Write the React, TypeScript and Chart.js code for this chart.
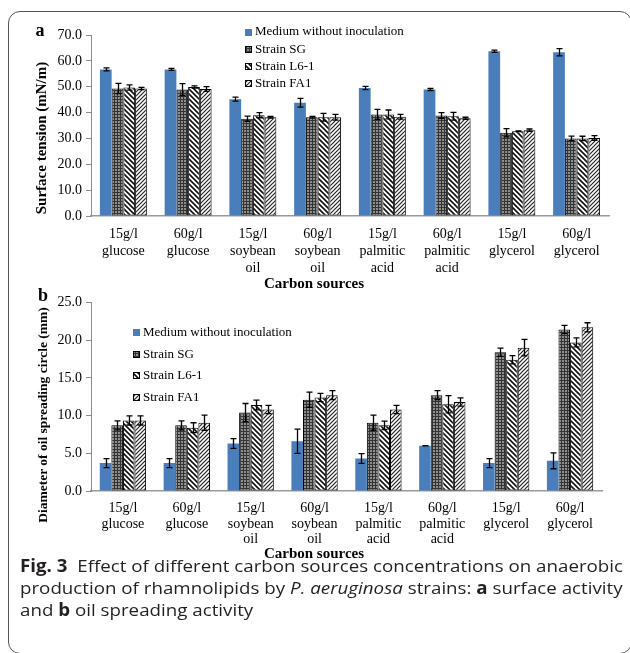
import React, { useEffect, useRef } from "react";
import { Chart, registerables } from "chart.js";
Chart.register(...registerables);

// ---------- data ----------
const categories: string[][] = [
  ["15g/l", "glucose"],
  ["60g/l", "glucose"],
  ["15g/l", "soybean", "oil"],
  ["60g/l", "soybean", "oil"],
  ["15g/l", "palmitic", "acid"],
  ["60g/l", "palmitic", "acid"],
  ["15g/l", "glycerol"],
  ["60g/l", "glycerol"],
];
const seriesNames = ["Medium without inoculation", "Strain SG", "Strain L6-1", "Strain FA1"];

// (a) surface tension (mN/m)
const tensionMedium = [56.7, 56.7, 45.2, 43.8, 49.5, 48.9, 63.7, 63.3];
const tensionMediumErr = [0.6, 0.4, 0.8, 1.7, 0.6, 0.4, 0.45, 1.4];
const tensionSG = [49.3, 48.9, 37.6, 38.2, 39.3, 38.9, 32.2, 30.0];
const tensionSGErr = [2.0, 2.3, 1.0, 0.3, 1.9, 1.1, 1.6, 0.9];
const tensionL61 = [49.7, 49.9, 39.0, 38.2, 39.3, 38.6, 32.8, 30.0];
const tensionL61Err = [1.0, 0.4, 1.0, 1.5, 1.7, 1.5, 0.15, 0.85];
const tensionFA1 = [49.3, 49.1, 38.2, 38.2, 38.4, 37.8, 33.2, 30.2];
const tensionFA1Err = [0.45, 0.9, 0.3, 1.1, 0.9, 0.4, 0.45, 0.9];

// (b) diameter of oil spreading circle (mm)
const spreadMedium = [3.7, 3.7, 6.3, 6.6, 4.3, 6.0, 3.7, 4.0];
const spreadMediumErr = [0.6, 0.6, 0.65, 1.6, 0.65, 0, 0.6, 1.05];
const spreadSG = [8.7, 8.7, 10.4, 12.1, 9.05, 12.7, 18.4, 21.4];
const spreadSGErr = [0.6, 0.6, 1.2, 1.0, 1.0, 0.6, 0.55, 0.55];
const spreadL61 = [9.35, 8.4, 11.4, 12.4, 8.7, 11.5, 17.4, 19.7];
const spreadL61Err = [0.6, 0.65, 0.65, 0.55, 0.55, 1.15, 0.55, 0.6];
const spreadFA1 = [9.35, 9.05, 10.8, 12.7, 10.8, 11.8, 19.0, 21.7];
const spreadFA1Err = [0.6, 1.0, 0.55, 0.6, 0.55, 0.55, 1.1, 0.6];

const tensionTicks = { min: 0, max: 70, step: 10 };
const spreadTicks = { min: 0, max: 25, step: 5 };

// ---------- patterns ----------
function makePattern(kind: string): CanvasPattern | string {
  const c = document.createElement("canvas");
  const ctx = c.getContext("2d")!;
  if (kind === "grid") {
    c.width = 3; c.height = 3;
    ctx.fillStyle = "#8e8e8e"; ctx.fillRect(0, 0, 3, 3);
    ctx.fillStyle = "#333333"; ctx.fillRect(0, 0, 3, 1); ctx.fillRect(0, 0, 1, 3);
  } else if (kind === "down") {
    const s = 5; c.width = s; c.height = s;
    ctx.fillStyle = "#fff"; ctx.fillRect(0, 0, s, s);
    ctx.strokeStyle = "#111"; ctx.lineWidth = 1.6;
    ctx.beginPath();
    ctx.moveTo(-1, -1); ctx.lineTo(s + 1, s + 1);
    ctx.moveTo(-1, s - 1); ctx.lineTo(1, s + 1);
    ctx.moveTo(s - 1, -1); ctx.lineTo(s + 1, 1);
    ctx.stroke();
  } else {
    const s = 4; c.width = s; c.height = s;
    ctx.fillStyle = "#fff"; ctx.fillRect(0, 0, s, s);
    ctx.strokeStyle = "#222"; ctx.lineWidth = 1.2;
    ctx.beginPath();
    ctx.moveTo(-1, s + 1); ctx.lineTo(s + 1, -1);
    ctx.moveTo(-1, 1); ctx.lineTo(1, -1);
    ctx.moveTo(s - 1, s + 1); ctx.lineTo(s + 1, s - 1);
    ctx.stroke();
  }
  return ctx.createPattern(c, "repeat")!;
}

// ---------- plugins ----------
const errorBars = {
  id: "errorBars",
  afterDatasetsDraw(chart: any) {
    const { ctx } = chart;
    const yScale = chart.scales.y;
    chart.data.datasets.forEach((ds: any, i: number) => {
      const errs: number[] = ds.errors;
      if (!errs) return;
      const meta = chart.getDatasetMeta(i);
      meta.data.forEach((bar: any, j: number) => {
        const v = ds.data[j];
        const e = errs[j];
        const x = Math.round(bar.x) + 0.5;
        const yT = yScale.getPixelForValue(v + e);
        const yB = yScale.getPixelForValue(v - e);
        ctx.save();
        ctx.strokeStyle = "#000";
        ctx.lineWidth = 1.3;
        ctx.beginPath();
        ctx.moveTo(x, yT); ctx.lineTo(x, yB);
        ctx.moveTo(x - 3, yT); ctx.lineTo(x + 3, yT);
        ctx.moveTo(x - 3, yB); ctx.lineTo(x + 3, yB);
        ctx.stroke();
        ctx.restore();
      });
    });
  },
};

const boxLegend = {
  id: "boxLegend",
  afterDraw(chart: any, _args: any, opts: any) {
    const { ctx } = chart;
    const box = 7;
    chart.data.datasets.forEach((ds: any, i: number) => {
      const cy = opts.y + i * opts.gap;
      ctx.save();
      ctx.fillStyle = ds.backgroundColor;
      ctx.fillRect(opts.x, Math.round(cy - box / 2), box, box);
      if (ds.borderWidth) {
        ctx.strokeStyle = "#000";
        ctx.lineWidth = 1;
        ctx.strokeRect(opts.x + 0.5, Math.round(cy - box / 2) + 0.5, box - 1, box - 1);
      }
      ctx.fillStyle = "#000";
      ctx.font = "13px 'Liberation Serif'";
      ctx.textBaseline = "middle";
      ctx.textAlign = "left";
      ctx.fillText(ds.label, opts.x + box + 3, cy);
      ctx.restore();
    });
  },
};

type PanelProps = {
  top: number;
  height: number;
  values: number[][];
  errors: number[][];
  ticks: { min: number; max: number; step: number };
  area: { left: number; right: number; top: number; bottom: number };
  legend: { x: number; y: number; gap: number };
  tickLineHeight: number;
  tickPadding: number;
};

function ChartPanel(p: PanelProps) {
  const ref = useRef<HTMLCanvasElement>(null);
  useEffect(() => {
    const fills = ["#4a7ebb", makePattern("grid"), makePattern("down"), makePattern("up")];
    const chart = new Chart(ref.current!, {
      type: "bar",
      data: {
        labels: categories,
        datasets: p.values.map((vals, i) => ({
          label: seriesNames[i],
          data: vals,
          errors: p.errors[i],
          backgroundColor: fills[i] as any,
          borderColor: "#000",
          borderWidth: i === 0 ? 0 : 1,
          borderSkipped: false,
          categoryPercentage: 0.725,
          barPercentage: 1.0,
        })) as any,
      },
      options: {
        responsive: false,
        animation: false,
        layout: {
          padding: { left: 0, right: 630 - p.area.right, top: p.area.top, bottom: 0 },
        },
        plugins: {
          legend: { display: false },
          tooltip: { enabled: false },
          boxLegend: p.legend,
        } as any,
        scales: {
          x: {
            grid: { display: false, drawTicks: false },
            border: { display: true, color: "#9a9a9a", width: 1.5 },
            ticks: {
              color: "#000",
              maxRotation: 0,
              autoSkip: false,
              padding: p.tickPadding,
              font: { family: "'Liberation Serif'", size: 14, lineHeight: p.tickLineHeight },
            },
            afterFit: (s: any) => { s.height = p.height - p.area.bottom; },
          },
          y: {
            min: p.ticks.min,
            max: p.ticks.max,
            grid: { display: true, drawOnChartArea: false, drawTicks: true, tickLength: 5, color: "#8c8c8c" },
            border: { display: true, color: "#8c8c8c", width: 1 },
            ticks: {
              stepSize: p.ticks.step,
              color: "#000",
              padding: 4,
              font: { family: "'Liberation Serif'", size: 14 },
              callback: (v: any) => Number(v).toFixed(1),
            },
            afterFit: (s: any) => { s.width = p.area.left; },
          },
        },
      },
      plugins: [errorBars, boxLegend],
    } as any);
    return () => chart.destroy();
  }, []);
  return (
    <canvas
      ref={ref}
      width={630}
      height={p.height}
      style={{ position: "absolute", left: 0, top: p.top, width: 630, height: p.height }}
    />
  );
}

const serif = "'Liberation Serif', 'Times New Roman', serif";

function VText(props: { x: number; y: number; size: number; text: string }) {
  return (
    <div
      style={{
        position: "absolute",
        left: props.x,
        top: props.y,
        transform: "translate(-50%, -50%) rotate(-90deg)",
        whiteSpace: "nowrap",
        fontFamily: serif,
        fontWeight: "bold",
        fontSize: props.size,
        lineHeight: 1,
        color: "#000",
      }}
    >
      {props.text}
    </div>
  );
}

function HText(props: { x: number; y: number; size: number; text: string }) {
  return (
    <div
      style={{
        position: "absolute",
        left: props.x,
        top: props.y,
        transform: "translate(-50%, -50%)",
        whiteSpace: "nowrap",
        fontFamily: serif,
        fontWeight: "bold",
        fontSize: props.size,
        lineHeight: 1,
        color: "#000",
      }}
    >
      {props.text}
    </div>
  );
}

function Caption() {
  const ref = useRef<HTMLDivElement>(null);
  const l1 = useRef<HTMLSpanElement>(null);
  useEffect(() => {
    if (ref.current && l1.current) {
      const w = l1.current.getBoundingClientRect().width;
      const f = 603 / w;
      ref.current.style.transform = `scaleX(${f})`;
    }
  }, []);
  return (
    <div
      ref={ref}
      style={{
        position: "absolute",
        left: 20,
        top: 555,
        transformOrigin: "0 0",
        whiteSpace: "nowrap",
        fontFamily: "'Open Sans', 'Noto Sans', sans-serif",
        fontSize: 17,
        lineHeight: "22px",
        color: "#231f20",
      }}
    >
      <span ref={l1}>
        <b>Fig. 3</b>&nbsp; Effect of different carbon sources concentrations on anaerobic
      </span>
      <br />
      production of rhamnolipids by <i>P. aeruginosa</i> strains: <b>a</b> surface activity
      <br />
      and <b>b</b> oil spreading activity
    </div>
  );
}

export default function App() {
  return (
    <div
      style={{
        position: "absolute",
        left: 0,
        top: 0,
        width: 630,
        height: 653,
        overflow: "hidden",
        background: "#fff",
      }}
    >
      <div
        style={{
          position: "absolute",
          left: 8,
          top: 11,
          width: 624,
          height: 643,
          border: "1px solid #555",
          borderRadius: 12,
          boxSizing: "border-box",
        }}
      />
      <ChartPanel
        top={0}
        height={300}
        values={[tensionMedium, tensionSG, tensionL61, tensionFA1]}
        errors={[tensionMediumErr, tensionSGErr, tensionL61Err, tensionFA1Err]}
        ticks={tensionTicks}
        area={{ left: 91, right: 609, top: 35, bottom: 216 }}
        legend={{ x: 245, y: 32, gap: 17.3 }}
        tickLineHeight={1.2}
        tickPadding={10}
      />
      <ChartPanel
        top={290}
        height={270}
        values={[spreadMedium, spreadSG, spreadL61, spreadFA1]}
        errors={[spreadMediumErr, spreadSGErr, spreadL61Err, spreadFA1Err]}
        ticks={spreadTicks}
        area={{ left: 91, right: 602, top: 11.5, bottom: 201 }}
        legend={{ x: 133, y: 42.5, gap: 21.7 }}
        tickLineHeight={1.1}
        tickPadding={10}
      />
      <HText x={40} y={30} size={18} text="a" />
      <HText x={43} y={295} size={18} text="b" />
      <VText x={41} y={137.5} size={15} text="Surface tension (mN/m)" />
      <VText x={43} y={415} size={13.5} text="Diameter of oil spreading circle (mm)" />
      <HText x={314} y={283} size={15} text="Carbon sources" />
      <HText x={314} y={553} size={15} text="Carbon sources" />
      <Caption />
    </div>
  );
}
